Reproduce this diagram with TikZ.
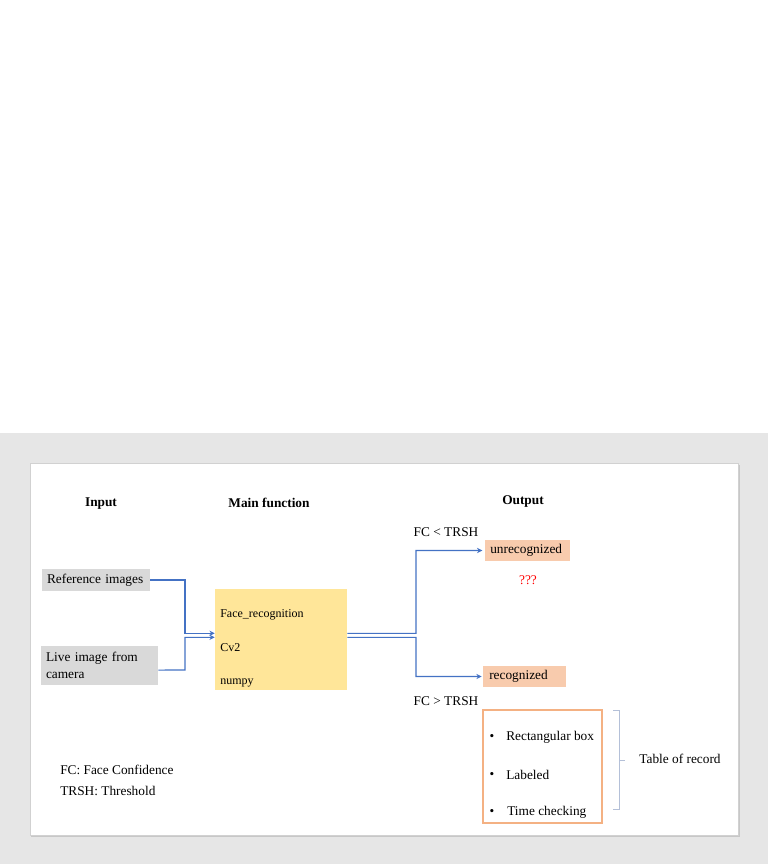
\documentclass[tikz,border=0pt]{standalone}
\usepackage{fontspec}
\setmainfont{Liberation Serif}
\usetikzlibrary{arrows.meta}
\definecolor{bandgray}{HTML}{E6E6E6}
\definecolor{boxgray}{HTML}{D9D9D9}
\definecolor{mainyellow}{HTML}{FFE699}
\definecolor{salmon}{HTML}{F8CBAD}
\definecolor{orangeline}{HTML}{F4B183}
\definecolor{connblue}{HTML}{4472C4}
\definecolor{bracketblue}{HTML}{B4C0D8}
\definecolor{qred}{HTML}{FF0000}
\begin{document}
\begin{tikzpicture}[x=0.75pt,y=-0.75pt,
  txt/.style={font=\fontsize{10}{12}\selectfont, inner sep=0pt},
  hdr/.style={font=\fontsize{10}{12}\selectfont\bfseries, inner sep=0pt},
  small/.style={font=\fontsize{9}{11}\selectfont, inner sep=0pt, anchor=base west},
  inbox/.style={fill=boxgray, draw=none, inner xsep=3.75pt, inner ysep=0pt, align=left, font=\fontsize{10}{12.75}\selectfont},
  outbox/.style={fill=salmon, draw=none, inner xsep=3.75pt, inner ysep=0pt, minimum height=15.75pt, align=left, font=\fontsize{10}{12}\selectfont},
  conn/.style={draw=connblue, line width=0.8pt, -{Stealth[length=4pt,width=4pt]}}
]
\useasboundingbox (0,0) rectangle (768,866);
\fill[white] (0,0) rectangle (768,866);
\fill[bandgray] (0,433) rectangle (768,864);
\fill[black!22] (31,465) rectangle (740,837);
\filldraw[fill=white, draw=black!18, line width=0.5pt] (30,463) rectangle (738,835);

% headers
\node[hdr] (hin) at (101,503.5) {Input};
\node[hdr] (hmain) at (269,503) {Main function};
\node[hdr] (hout) at (523,501) {Output};

% inputs
\node[inbox, text width=73.5pt, minimum height=16.5pt] (ref) at (96,580) {Reference images};
\node[inbox, text width=80.25pt, minimum height=29.25pt] (live) at (99.5,665.5) {Live image from\\camera};

% main function
\node[fill=mainyellow, draw=none, minimum width=99pt, minimum height=75.75pt, inner sep=0pt] (main) at (281,639.5) {};
\node[small] (fr) at (220,617) {Face\_recognition};
\node[small] (cv) at (220,651) {Cv2};
\node[small] (np) at (220,684) {numpy};

% outputs
\node[outbox, text width=56.25pt, anchor=west] (unrec) at (485,550.5) {unrecognized};
\node[outbox, inner xsep=4.5pt, text width=53.25pt, anchor=west] (rec) at (483,676.5) {recognized};
\node[txt, text=qred] (qq) at (528,580.5) {???};
\node[txt] (lt) at (446,532.5) {FC < TRSH};
\node[txt] (gt) at (446,701.5) {FC > TRSH};

% table of record
\node[draw=orangeline, line width=0.8pt, minimum width=89.25pt, minimum height=84.75pt, inner sep=0pt] (rec2) at (542.5,766.5) {};
\node[txt] (b1) at (492,737) {\textbullet};
\node[txt] (b2) at (492,775) {\textbullet};
\node[txt] (b3) at (492,812) {\textbullet};
\node[txt, anchor=west] (i1) at (506,737) {Rectangular box};
\node[txt, anchor=west] (i2) at (506,775) {Labeled};
\node[txt, anchor=west] (i3) at (507,812) {Time checking};
\draw[bracketblue, line width=0.6pt] (613,710) -- (619,710) -- (619,809) -- (613,809);
\draw[bracketblue, line width=0.6pt] (619,760) -- (625,760);
\node[txt] (tor) at (680,758.5) {Table of record};

% legend
\node[txt, anchor=west] (leg1) at (60,770) {FC: Face Confidence};
\node[txt, anchor=west] (leg2) at (60,791) {TRSH: Threshold};

% connectors in
\draw[conn] (ref.east) -- (185,580) |- ([yshift=4.65pt]main.west);
\draw[conn] ([yshift=-3.4pt]live.east) -- (185,670) |- ([yshift=1.65pt]main.west);

% connectors out
\draw[conn, shorten >=2pt] ([yshift=4.65pt]main.east) -- (416,633.3) |- (unrec.west);
\draw[conn, shorten >=1pt] ([yshift=1.65pt]main.east) -- (416,637.3) |- (rec.west);
\end{tikzpicture}
\end{document}
